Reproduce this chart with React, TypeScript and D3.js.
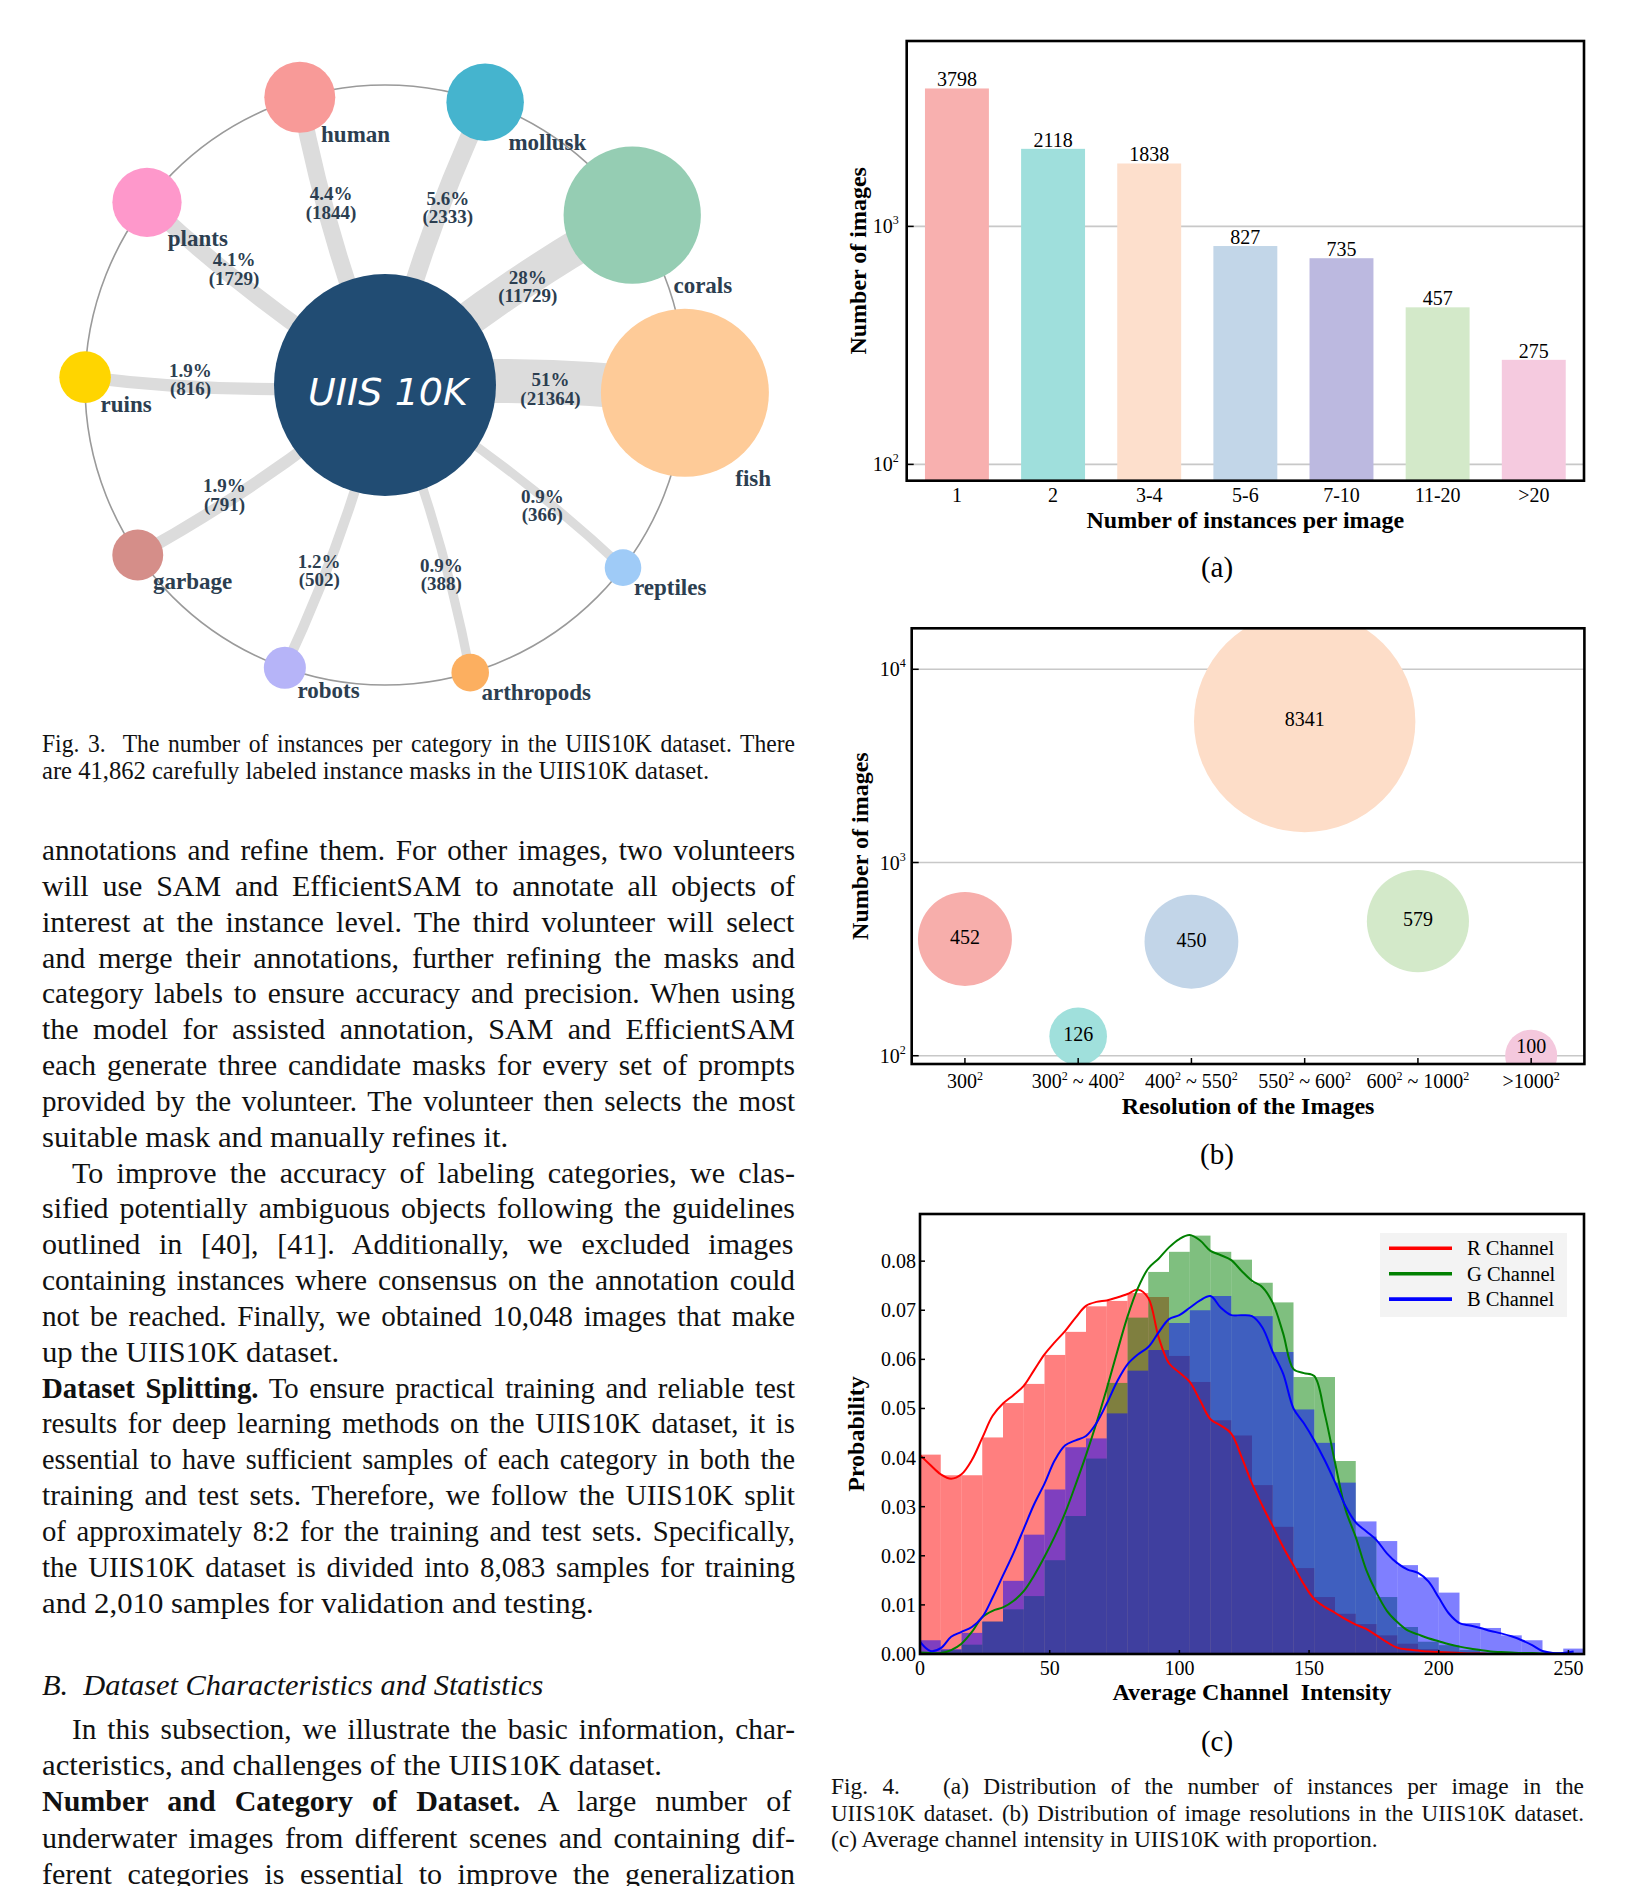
import React, { useMemo } from 'react';
import * as d3 from 'd3';

const SERIF = "'Liberation Serif', 'Times New Roman', Times, serif";

// ---------------- Fig. 3 : instances per category ----------------
const categories = ['fish', 'reptiles', 'arthropods', 'robots', 'garbage', 'ruins', 'plants', 'human', 'mollusk', 'corals'];
const instanceCounts = [21364, 366, 388, 502, 791, 816, 1729, 1844, 2333, 11729];
const categoryColors = ['#FECB98', '#9FCBF7', '#FCAF60', '#B6B4F8', '#D58E89', '#FFD500', '#FE98CB', '#F89A98', '#45B4CE', '#95CDB3'];
const hubLabel = 'UIIS 10K';

// ---------------- Fig. 4(a) ----------------
const instanceBins = ['1', '2', '3-4', '5-6', '7-10', '11-20', '>20'];
const imagesPerBin = [3798, 2118, 1838, 827, 735, 457, 275];
const barColors = ['#F8B0AF', '#9FDFDC', '#FDDFCC', '#C2D6E8', '#BCB9E0', '#D3E9C9', '#F5CADF'];
const logTicksA = [100, 1000];

// ---------------- Fig. 4(b) ----------------
const resolutionBins = ['300²', '300² ~ 400²', '400² ~ 550²', '550² ~ 600²', '600² ~ 1000²', '>1000²'];
const resolutionCounts = [452, 126, 450, 8341, 579, 100];
const resolutionPlotY = [402, 126, 389, 5370, 497, 100];
const bubbleColors = ['#F7AEAB', '#A0E0DC', '#C2D5E8', '#FDDDC8', '#D3E9C9', '#F4C8DD'];
const logTicksB = [100, 1000, 10000];

// ---------------- Fig. 4(c) ----------------
const binWidth = 8;
const histR = [0.0406, 0.0364, 0.0364, 0.0441, 0.0511, 0.0550, 0.0609, 0.0656, 0.0708, 0.0719, 0.0735, 0.0727, 0.0607, 0.0554, 0.0476, 0.0445, 0.0344, 0.0259, 0.0175, 0.0116, 0.0082, 0.0061, 0.0038, 0.0021, 0.0010, 0.0005, 0.0003, 0.0002, 0.0001, 0.0001, 0, 0];
const histG = [0.0001, 0.0008, 0.0019, 0.0066, 0.0091, 0.0118, 0.0191, 0.0281, 0.0398, 0.0552, 0.0685, 0.0778, 0.0819, 0.0852, 0.0819, 0.0803, 0.0756, 0.0716, 0.0564, 0.0564, 0.0393, 0.0239, 0.0116, 0.0055, 0.0025, 0.0018, 0.0008, 0.0003, 0.0001, 0.0001, 0, 0];
const histB = [0.0028, 0.0010, 0.0043, 0.0066, 0.0149, 0.0243, 0.0335, 0.0421, 0.0439, 0.0490, 0.0577, 0.0619, 0.0674, 0.0700, 0.0729, 0.0688, 0.0688, 0.0615, 0.0498, 0.0430, 0.0349, 0.0270, 0.0230, 0.0181, 0.0156, 0.0125, 0.0063, 0.0053, 0.0038, 0.0028, 0.0004, 0.0011];
const kdeX = [0, 4, 8, 12, 16, 20, 24, 28, 32, 36, 40, 44, 48, 52, 56, 60, 64, 68, 72, 76, 80, 84, 88, 92, 96, 100, 104, 108, 112, 116, 120, 124, 128, 132, 136, 140, 144, 148, 152, 156, 160, 164, 168, 172, 176, 180, 184, 188, 192, 196, 200, 204, 208, 212, 216, 220, 224, 228, 232, 236, 240, 244, 248, 252];
const kdeR = [0.0405, 0.0385, 0.0366, 0.0357, 0.0366, 0.0395, 0.0440, 0.0485, 0.0510, 0.0527, 0.0546, 0.0578, 0.0610, 0.0635, 0.0658, 0.0685, 0.0709, 0.0717, 0.0720, 0.0726, 0.0733, 0.0742, 0.0725, 0.0645, 0.0592, 0.0573, 0.0554, 0.0516, 0.0478, 0.0465, 0.0449, 0.0401, 0.0347, 0.0302, 0.0260, 0.0218, 0.0180, 0.0142, 0.0112, 0.0096, 0.0084, 0.0071, 0.0060, 0.0051, 0.0038, 0.0024, 0.0013, 0.0009, 0.0007, 0.0005, 0.0004, 0.0003, 0.0002, 0.0001, 0.0001, 0.0000, 0.0000, 0.0000, 0.0000, 0.0000, 0.0000, 0.0000, 0.0000, 0.0000];
const kdeG = [0.0003, 0.0002, 0.0002, 0.0008, 0.0021, 0.0045, 0.0075, 0.0088, 0.0095, 0.0108, 0.0128, 0.0160, 0.0198, 0.0240, 0.0288, 0.0345, 0.0405, 0.0470, 0.0540, 0.0615, 0.0687, 0.0745, 0.0785, 0.0805, 0.0828, 0.0845, 0.0853, 0.0842, 0.0821, 0.0812, 0.0802, 0.0780, 0.0760, 0.0747, 0.0715, 0.0653, 0.0580, 0.0572, 0.0566, 0.0490, 0.0390, 0.0295, 0.0238, 0.0172, 0.0125, 0.0088, 0.0065, 0.0048, 0.0040, 0.0032, 0.0026, 0.0020, 0.0015, 0.0011, 0.0008, 0.0005, 0.0004, 0.0003, 0.0002, 0.0002, 0.0001, 0.0001, 0.0001, 0.0001];
const kdeB = [0.0025, 0.0006, 0.0012, 0.0035, 0.0045, 0.0055, 0.0075, 0.0115, 0.0160, 0.0205, 0.0255, 0.0305, 0.0347, 0.0395, 0.0425, 0.0435, 0.0444, 0.0470, 0.0510, 0.0555, 0.0590, 0.0610, 0.0625, 0.0655, 0.0682, 0.0690, 0.0705, 0.0720, 0.0729, 0.0705, 0.0690, 0.0690, 0.0688, 0.0665, 0.0615, 0.0571, 0.0500, 0.0470, 0.0435, 0.0395, 0.0350, 0.0302, 0.0268, 0.0250, 0.0232, 0.0205, 0.0185, 0.0172, 0.0165, 0.0148, 0.0115, 0.0082, 0.0063, 0.0058, 0.0053, 0.0047, 0.0042, 0.0036, 0.0028, 0.0018, 0.0006, 0.0002, 0.0002, 0.0005];
const channelNames = ['R Channel', 'G Channel', 'B Channel'];
const channelColors = ['#FF0000', '#008000', '#0000FF'];
const yTicksC = [0, 0.01, 0.02, 0.03, 0.04, 0.05, 0.06, 0.07, 0.08];
const xTicksC = [0, 50, 100, 150, 200, 250];

// ---------------- page text ----------------
type Part = { t: string; b?: boolean; i?: boolean };
type Line = { parts: Part[]; j: boolean; indent?: boolean };
const L = (t: string, j = true, indent = false): Line => ({ parts: [{ t }], j, indent });

const fig3Caption: Line[] = [
  L('Fig. 3.  The number of instances per category in the UIIS10K dataset. There'),
  L('are 41,862 carefully labeled instance masks in the UIIS10K dataset.', false),
];
const bodyLines: Line[] = [
  L('annotations and refine them. For other images, two volunteers'),
  L('will use SAM and EfficientSAM to annotate all objects of'),
  L('interest at the instance level. The third volunteer will select'),
  L('and merge their annotations, further refining the masks and'),
  L('category labels to ensure accuracy and precision. When using'),
  L('the model for assisted annotation, SAM and EfficientSAM'),
  L('each generate three candidate masks for every set of prompts'),
  L('provided by the volunteer. The volunteer then selects the most'),
  L('suitable mask and manually refines it.', false),
  L('To improve the accuracy of labeling categories, we clas-', true, true),
  L('sified potentially ambiguous objects following the guidelines'),
  L('outlined in [40], [41]. Additionally, we excluded images'),
  L('containing instances where consensus on the annotation could'),
  L('not be reached. Finally, we obtained 10,048 images that make'),
  L('up the UIIS10K dataset.', false),
  { parts: [{ t: 'Dataset Splitting.', b: true }, { t: ' To ensure practical training and reliable test' }], j: true },
  L('results for deep learning methods on the UIIS10K dataset, it is'),
  L('essential to have sufficient samples of each category in both the'),
  L('training and test sets. Therefore, we follow the UIIS10K split'),
  L('of approximately 8:2 for the training and test sets. Specifically,'),
  L('the UIIS10K dataset is divided into 8,083 samples for training'),
  L('and 2,010 samples for validation and testing.', false),
];
const sectionHeading = 'B.  Dataset Characteristics and Statistics';
const bodyLines2: Line[] = [
  L('In this subsection, we illustrate the basic information, char-', true, true),
  L('acteristics, and challenges of the UIIS10K dataset.', false),
  { parts: [{ t: 'Number and Category of Dataset.', b: true }, { t: ' A large number of' }], j: true },
  L('underwater images from different scenes and containing dif-'),
  L('ferent categories is essential to improve the generalization'),
];
const fig4Caption: Line[] = [
  L('Fig. 4.   (a) Distribution of the number of instances per image in the'),
  L('UIIS10K dataset. (b) Distribution of image resolutions in the UIIS10K dataset.'),
  L('(c) Average channel intensity in UIIS10K with proportion.', false),
];

function supParts(label: string, supSize: number, shift: number) {
  const parts = label.split('²');
  const out: any[] = [];
  parts.forEach((p, i) => {
    out.push(<tspan key={'p' + i} dy={i > 0 ? shift : 0}>{p}</tspan>);
    if (i < parts.length - 1) out.push(<tspan key={'s' + i} fontSize={supSize} dy={-shift}>2</tspan>);
  });
  return out;
}

export default function App() {
  const ctx = useMemo(() => document.createElement('canvas').getContext('2d') as CanvasRenderingContext2D, []);
  const measure = (t: string, size: number, bold?: boolean, italic?: boolean) => {
    ctx.font = `${italic ? 'italic' : 'normal'} ${bold ? 'bold' : 'normal'} ${size}px ${SERIF}`;
    return ctx.measureText(t).width;
  };
  const renderLine = (line: Line, x0: number, width: number, y: number, size: number, key: string, stretch = 1, indent = 30) => {
    const x = x0 + (line.indent ? indent : 0);
    const w = width - (line.indent ? indent : 0);
    let ws = 0;
    let fitProps: any = {};
    const tot = line.parts.reduce((s, p) => s + measure(p.t, size, p.b, p.i), 0);
    const nsp = line.parts.reduce((s, p) => s + (p.t.match(/ /g) || []).length, 0);
    if (line.j) {
      ws = nsp ? (w - tot) / nsp : 0;
      const minWs = size * 0.12;
      if (ws < minWs) {
        ws = minWs;
        fitProps = { textLength: w, lengthAdjust: 'spacingAndGlyphs' };
      }
    } else if (stretch !== 1) {
      fitProps = { textLength: tot * stretch, lengthAdjust: 'spacingAndGlyphs' };
    }
    return (
      <text key={key} x={x} y={y} fontSize={size} style={{ wordSpacing: `${ws}px`, whiteSpace: 'pre' }} fill="#111" {...fitProps}>
        {line.parts.map((p, i) => (
          <tspan key={i} fontWeight={p.b ? 'bold' : 'normal'} fontStyle={p.i ? 'italic' : 'normal'}>{p.t}</tspan>
        ))}
      </text>
    );
  };

  // ---------- network ----------
  const cx = 385, cy = 385, ringR = 300, coreR = 111;
  const rScale = d3.scalePow().exponent(0.3).domain([366, 21364]).range([18.3, 84]);
  const wScale = d3.scalePow().exponent(0.4).domain([366, 21364]).range([9, 44]);
  const total = d3.sum(instanceCounts);
  const nodes = categories.map((c, i) => {
    const a = ((i * 36 + 1.5) * Math.PI) / 180;
    const n = instanceCounts[i];
    const p = (n / total) * 100;
    return {
      c, n, a, color: categoryColors[i],
      x: cx + ringR * Math.cos(a), y: cy + ringR * Math.sin(a), r: rScale(n), w: wScale(n),
      pct: (p >= 10 ? d3.format('.0f')(p) : d3.format('.1f')(p)) + '%',
    };
  });
  const spokePath = (nd: any) => {
    const dx = nd.x - cx, dy = nd.y - cy;
    const mx = (cx + nd.x) / 2, my = (cy + nd.y) / 2;
    const f = 0.05;
    const p = d3.path();
    p.moveTo(cx, cy);
    p.quadraticCurveTo(mx + f * dy, my - f * dx, nd.x, nd.y);
    return p.toString();
  };

  // ---------- chart a ----------
  const A = { x0: 906.7, x1: 1584, y0: 41, y1: 480.7 };
  const xA = d3.scaleBand().domain(instanceBins).range([A.x0, A.x1]).paddingInner(0.335).paddingOuter(0.19);
  const yA = d3.scaleLog().domain([85.4, 6012]).range([A.y1, A.y0]);

  // ---------- chart b ----------
  const B = { x0: 911.7, x1: 1584.4, y0: 628.3, y1: 1064 };
  const xB = d3.scalePoint().domain(resolutionBins).range([B.x0, B.x1]).padding(0.47);
  const yB = d3.scaleLog().domain([90.6, 16300]).range([B.y1, B.y0]);
  const rB = d3.scalePow().exponent(0.2).domain([100, 8341]).range([26, 110.7]);

  // ---------- chart c ----------
  const C = { x0: 920, x1: 1584, y0: 1214, y1: 1654 };
  const xC = d3.scaleLinear().domain([0, 256]).range([C.x0, C.x1]);
  const yC = d3.scaleLinear().domain([0, 0.0896]).range([C.y1, C.y0]);
  const hists = [histR, histG, histB];
  const kdes = [kdeR, kdeG, kdeB];
  const kdeLine = (vals: number[]) =>
    d3.line<number>().x((_, i) => xC(kdeX[i])).y((v) => yC(v)).curve(d3.curveCatmullRom.alpha(0.5))(vals) as string;

  const frame = (F: any) => (
    <rect x={F.x0} y={F.y0} width={F.x1 - F.x0} height={F.y1 - F.y0} fill="none" stroke="#000" strokeWidth={2.6} />
  );
  const TITLE = 24;
  const BODY = 30;
  const BODY_STRETCH = 1.025;

  return (
    <svg width={1639} height={1886} viewBox="0 0 1639 1886" style={{ position: 'absolute', left: 0, top: 0, background: '#fff' }} fontFamily={SERIF}>
      <rect x={0} y={0} width={1639} height={1886} fill="#fff" />
      <defs>
        <clipPath id="clipB"><rect x={B.x0} y={B.y0} width={B.x1 - B.x0} height={B.y1 - B.y0} /></clipPath>
        <clipPath id="clipC"><rect x={C.x0} y={C.y0} width={C.x1 - C.x0} height={C.y1 - C.y0} /></clipPath>
      </defs>

      {/* ================= Fig. 3 network ================= */}
      <g>
        <circle cx={cx} cy={cy} r={ringR} fill="none" stroke="#9a9a9a" strokeWidth={1.6} />
        {nodes.map((nd) => (
          <path key={'sp' + nd.c} d={spokePath(nd)} fill="none" stroke="#DCDCDC" strokeWidth={nd.w} />
        ))}
        {nodes.map((nd) => (
          <circle key={'nd' + nd.c} cx={nd.x} cy={nd.y} r={nd.r} fill={nd.color} />
        ))}
        <circle cx={cx} cy={cy} r={coreR} fill="#214C73" />
        <text x={cx + 3} y={cy + 20} textAnchor="middle" fill="#fff" fontSize={38} fontStyle="italic"
          fontFamily="'Comic Sans MS', 'DejaVu Sans', sans-serif" textLength={160}>{hubLabel}</text>
        {nodes.map((nd) => {
          const d = (coreR + ringR - nd.r) / 2 + 2;
          const lx = cx + d * Math.cos(nd.a), ly = cy + d * Math.sin(nd.a);
          return (
            <g key={'lb' + nd.c} fontWeight="bold" fontSize={19} fill="#2C3E50" textAnchor="middle">
              <text x={lx} y={ly - 3}>{nd.pct}</text>
              <text x={lx} y={ly + 15.5}>({nd.n})</text>
            </g>
          );
        })}
        {nodes.map((nd) => (
          <text key={'nm' + nd.c} x={nd.x + nd.r * 0.6} y={nd.y + nd.r + 9} fontSize={23} fontWeight="bold" fill="#2C3E50">{nd.c}</text>
        ))}
      </g>
      {fig3Caption.map((ln, i) => renderLine(ln, 42, 753, 752 + i * 27, 24.6, 'c3' + i))}

      {/* ================= body text ================= */}
      {bodyLines.map((ln, i) => renderLine(ln, 42, 753, 860 + i * 35.84, BODY, 'b1' + i, BODY_STRETCH))}
      <text x={42} y={1695} fontSize={30.4} fontStyle="italic" style={{ whiteSpace: 'pre' }} fill="#111">{sectionHeading}</text>
      {bodyLines2.map((ln, i) => renderLine(ln, 42, 753, 1739 + i * 36.2, BODY, 'b2' + i, BODY_STRETCH))}

      {/* ================= Fig. 4(a) ================= */}
      <g>
        {logTicksA.map((t) => (
          <line key={'ga' + t} x1={A.x0} x2={A.x1} y1={yA(t)} y2={yA(t)} stroke="#C8C8C8" strokeWidth={1.6} />
        ))}
        {instanceBins.map((b, i) => (
          <rect key={'ba' + b} x={xA(b)} y={yA(imagesPerBin[i])} width={xA.bandwidth()} height={A.y1 - yA(imagesPerBin[i])} fill={barColors[i]} />
        ))}
        {instanceBins.map((b, i) => (
          <text key={'va' + b} x={(xA(b) as number) + xA.bandwidth() / 2} y={yA(imagesPerBin[i]) - 2} textAnchor="middle" fontSize={20}>{imagesPerBin[i]}</text>
        ))}
        {logTicksA.map((t) => (
          <g key={'ta' + t}>
            <line x1={A.x0} x2={A.x0 + 7} y1={yA(t)} y2={yA(t)} stroke="#000" strokeWidth={1.5} />
            <text x={A.x0 - 14} y={yA(t) + 7} textAnchor="end" fontSize={20}>10</text>
            <text x={A.x0 - 14} y={yA(t) - 2} fontSize={12}>{Math.round(Math.log10(t))}</text>
          </g>
        ))}
        {frame(A)}
        {instanceBins.map((b) => (
          <text key={'xa' + b} x={(xA(b) as number) + xA.bandwidth() / 2} y={501.5} textAnchor="middle" fontSize={20}>{b}</text>
        ))}
        <text x={(A.x0 + A.x1) / 2} y={528} textAnchor="middle" fontSize={TITLE} fontWeight="bold">Number of instances per image</text>
        <text transform={`translate(866, ${(A.y0 + A.y1) / 2}) rotate(-90)`} textAnchor="middle" fontSize={TITLE} fontWeight="bold">Number of images</text>
        <text x={1217} y={577} textAnchor="middle" fontSize={29}>(a)</text>
      </g>

      {/* ================= Fig. 4(b) ================= */}
      <g>
        {logTicksB.map((t) => (
          <line key={'gb' + t} x1={B.x0} x2={B.x1} y1={yB(t)} y2={yB(t)} stroke="#C8C8C8" strokeWidth={1.6} />
        ))}
        <g clipPath="url(#clipB)">
          {resolutionBins.map((b, i) => (
            <circle key={'cb' + b} cx={xB(b)} cy={yB(resolutionPlotY[i])} r={rB(resolutionCounts[i])} fill={bubbleColors[i]} />
          ))}
        </g>
        {resolutionBins.map((b, i) => (
          <text key={'lb' + b} x={xB(b)} y={Math.min(yB(resolutionPlotY[i]) + 5, B.y1 - 11)} textAnchor="middle" fontSize={20}>{resolutionCounts[i]}</text>
        ))}
        {resolutionBins.map((b) => (
          <line key={'tb' + b} x1={xB(b)} x2={xB(b)} y1={B.y1} y2={B.y1 - 6} stroke="#000" strokeWidth={1.5} />
        ))}
        {logTicksB.map((t) => (
          <g key={'tyb' + t}>
            <line x1={B.x0} x2={B.x0 + 7} y1={yB(t)} y2={yB(t)} stroke="#000" strokeWidth={1.5} />
            <text x={B.x0 - 12} y={yB(t) + 7} textAnchor="end" fontSize={20}>10</text>
            <text x={B.x0 - 12} y={yB(t) - 2} fontSize={12}>{Math.round(Math.log10(t))}</text>
          </g>
        ))}
        {frame(B)}
        {resolutionBins.map((b) => (
          <text key={'xb' + b} x={xB(b)} y={1088} textAnchor="middle" fontSize={20}>{supParts(b, 12, 8)}</text>
        ))}
        <text x={(B.x0 + B.x1) / 2} y={1113.5} textAnchor="middle" fontSize={TITLE} fontWeight="bold">Resolution of the Images</text>
        <text transform={`translate(868, ${(B.y0 + B.y1) / 2}) rotate(-90)`} textAnchor="middle" fontSize={TITLE} fontWeight="bold">Number of images</text>
        <text x={1217} y={1164} textAnchor="middle" fontSize={29}>(b)</text>
      </g>

      {/* ================= Fig. 4(c) ================= */}
      <g>
        <g clipPath="url(#clipC)">
          {hists.map((h, k) => (
            <g key={'h' + k} fill={channelColors[k]} fillOpacity={0.5}>
              {h.map((v, i) => v > 0 ? (
                <rect key={i} x={xC(i * binWidth)} y={yC(v)} width={xC(binWidth) - xC(0)} height={C.y1 - yC(v)} />
              ) : null)}
            </g>
          ))}
          {kdes.map((kd, k) => (
            <path key={'k' + k} d={kdeLine(kd)} fill="none" stroke={channelColors[k]} strokeWidth={2} />
          ))}
        </g>
        {yTicksC.map((t) => (
          <g key={'yc' + t}>
            <line x1={C.x0} x2={C.x0 + 5} y1={yC(t)} y2={yC(t)} stroke="#000" strokeWidth={1.5} />
            <text x={C.x0 - 4} y={yC(t) + 7} textAnchor="end" fontSize={20}>{d3.format('.2f')(t)}</text>
          </g>
        ))}
        {xTicksC.map((t) => (
          <g key={'xc' + t}>
            <line x1={xC(t)} x2={xC(t)} y1={C.y1} y2={C.y1 - 4} stroke="#000" strokeWidth={1.5} />
            <text x={xC(t)} y={1675} textAnchor="middle" fontSize={20}>{t}</text>
          </g>
        ))}
        {frame(C)}
        <rect x={1380} y={1233} width={187} height={84} fill="#F3F3F3" />
        {channelNames.map((nm, k) => (
          <g key={'lg' + k}>
            <line x1={1389} x2={1452} y1={1248.3 + k * 25.4} y2={1248.3 + k * 25.4} stroke={channelColors[k]} strokeWidth={3.6} />
            <text x={1467} y={1248.3 + k * 25.4 + 7} fontSize={20.5}>{nm}</text>
          </g>
        ))}
        <text x={(C.x0 + C.x1) / 2} y={1700} textAnchor="middle" fontSize={TITLE} fontWeight="bold" style={{ whiteSpace: 'pre' }}>Average Channel  Intensity</text>
        <text transform={`translate(864, ${(C.y0 + C.y1) / 2}) rotate(-90)`} textAnchor="middle" fontSize={TITLE} fontWeight="bold">Probability</text>
        <text x={1217} y={1751} textAnchor="middle" fontSize={29}>(c)</text>
      </g>
      {fig4Caption.map((ln, i) => renderLine(ln, 831, 753, 1794 + i * 26.6, 23.4, 'c4' + i))}
    </svg>
  );
}
